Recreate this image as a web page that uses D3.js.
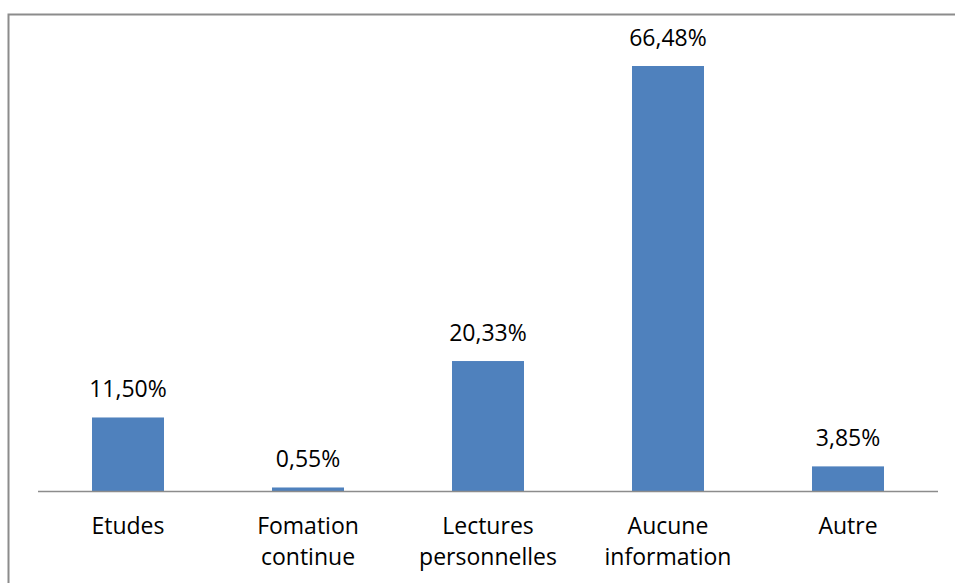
<!DOCTYPE html>
<html>
<head>
<meta charset="utf-8">
<script src="https://cdn.jsdelivr.net/npm/d3@7"></script>
<style>
  body { margin: 0; background: #fff; }
  svg { display: block; }
</style>
</head>
<body>
<svg class="chart"></svg>
<script>
// categories and values (percent)
var categories = [["Etudes"], ["Fomation", "continue"], ["Lectures", "personnelles"], ["Aucune", "information"], ["Autre"]];
var values = [11.50, 0.55, 20.33, 66.48, 3.85];
var labels = ["11,50%", "0,55%", "20,33%", "66,48%", "3,85%"];

var width = 955, height = 583;
var plot = { left: 38, right: 938, top: 43.5, bottom: 491 };

var svg = d3.select(".chart")
  .attr("width", width)
  .attr("height", height)
  .style("font-family", "'Open Sans', sans-serif");

// chart frame (runs past the picture on right and bottom)
svg.append("rect")
  .attr("x", 8.5)
  .attr("y", 14.5)
  .attr("width", 960)
  .attr("height", 600)
  .attr("fill", "none")
  .attr("stroke", "#8c8c8c")
  .attr("stroke-width", 2);

var x = d3.scaleBand()
  .domain(d3.range(values.length))
  .range([plot.left, plot.right])
  .paddingInner(0.6)
  .paddingOuter(0.3);

var y = d3.scaleLinear()
  .domain([0, 70])
  .range([plot.bottom, plot.top]);

svg.append("g")
  .selectAll("rect")
  .data(values)
  .join("rect")
  .attr("x", function(d, i) { return x(i); })
  .attr("y", function(d) { return y(d); })
  .attr("width", x.bandwidth())
  .attr("height", function(d) { return y(0) - y(d); })
  .attr("fill", "#4f81bd");

// value labels
svg.append("g")
  .attr("text-anchor", "middle")
  .style("font-size", "23px")
  .selectAll("text")
  .data(values)
  .join("text")
  .attr("x", function(d, i) { return x(i) + x.bandwidth() / 2; })
  .attr("y", function(d) { return y(d) - 20; })
  .attr("fill", "#000")
  .text(function(d, i) { return labels[i]; });

// x axis line
svg.append("line")
  .attr("x1", plot.left)
  .attr("x2", plot.right)
  .attr("y1", y(0) + 0.5)
  .attr("y2", y(0) + 0.5)
  .attr("stroke", "#8c8c8c")
  .attr("stroke-width", 1.5);

// category labels
var cat = svg.append("g")
  .attr("text-anchor", "middle")
  .style("font-size", "23px")
  .selectAll("text")
  .data(categories)
  .join("text")
  .attr("x", function(d, i) { return x(i) + x.bandwidth() / 2; })
  .attr("y", 534)
  .attr("fill", "#000");

cat.selectAll("tspan")
  .data(function(d) { return d; })
  .join("tspan")
  .attr("x", function() { return d3.select(this.parentNode).attr("x"); })
  .attr("dy", function(d, i) { return i === 0 ? 0 : 31; })
  .text(function(d) { return d; });
</script>
</body>
</html>
